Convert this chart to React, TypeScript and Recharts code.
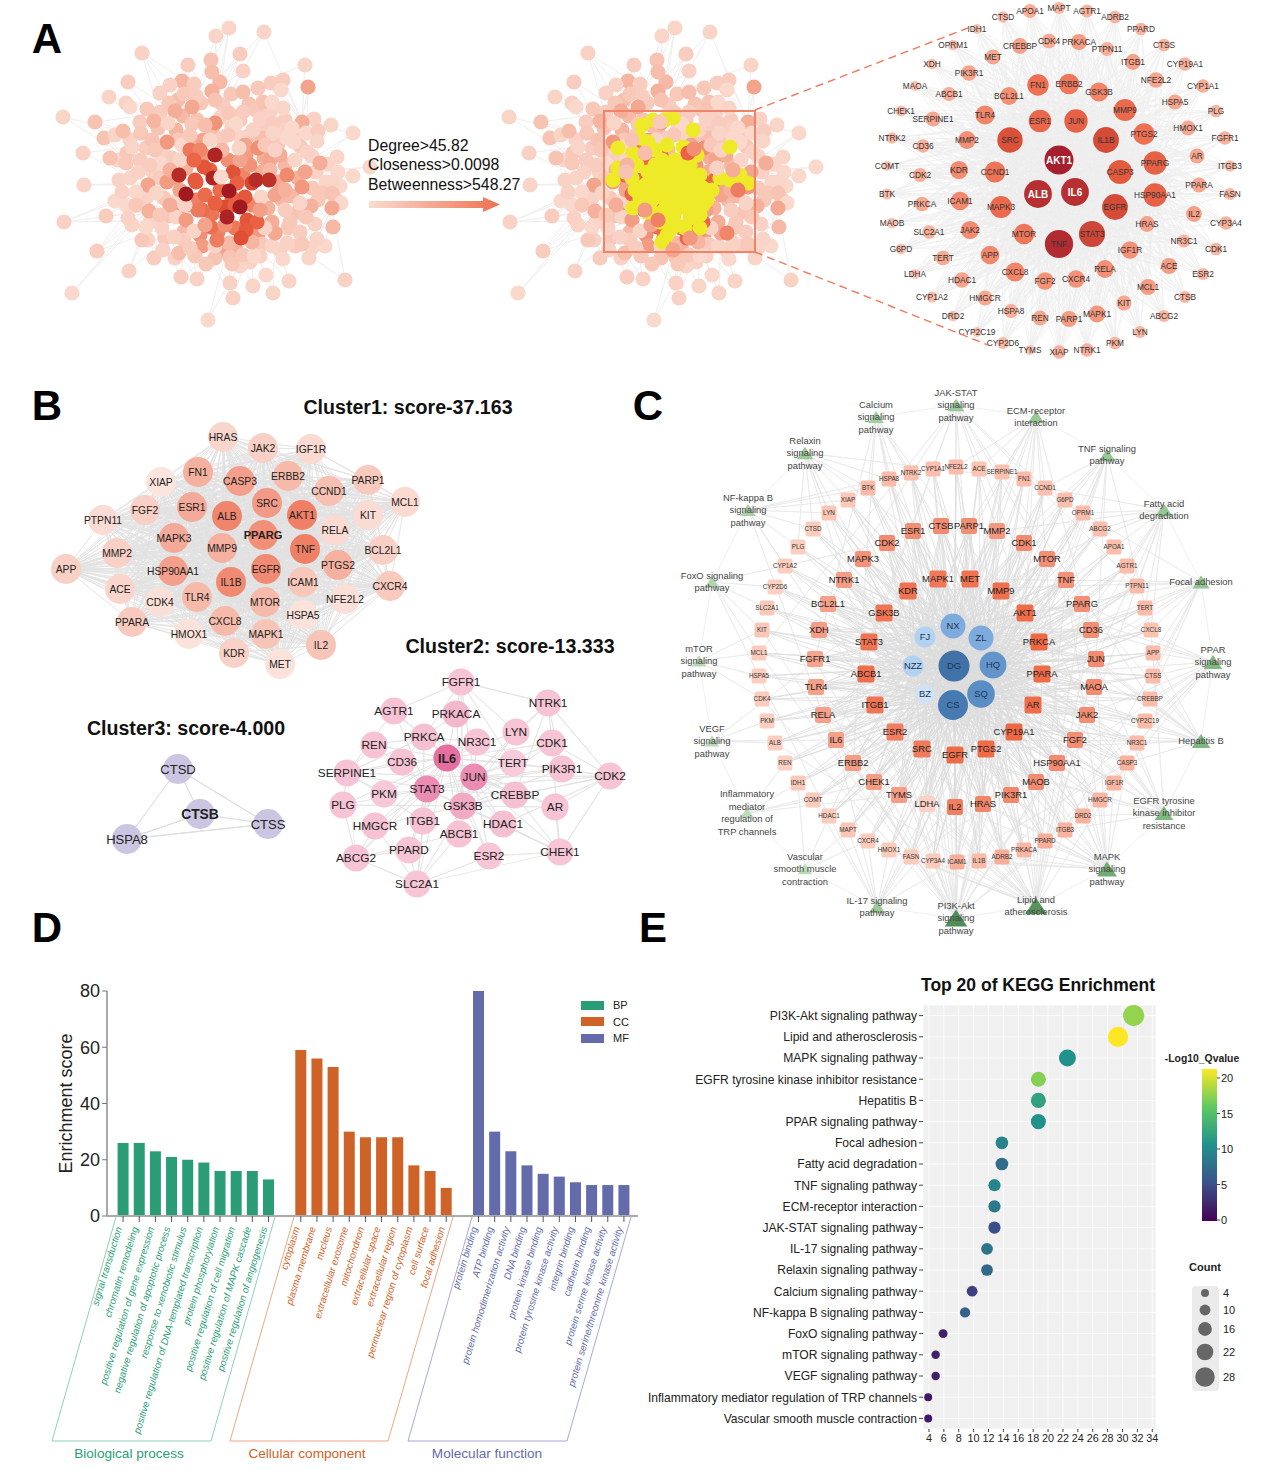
import { Bar, BarChart, CartesianGrid, Legend, Scatter, ScatterChart, XAxis, YAxis } from 'recharts';

// Panel A: protein network, [x, y, degree], ten nodes per row.
// Nodes are read off the picture. Edges cannot be traced one by one in it, so the edge lists are approximate.
const hairball = [
  [229,28,8],[216,36,8],[264,32,8],[142,53,10],[240,54,12],[188,65,12],[211,60,16],[305,65,8],[243,71,10],[128,82,12],
  [182,81,22],[220,82,20],[212,72,18],[308,87,30],[283,80,12],[271,83,12],[258,88,14],[281,90,6],[109,97,8],[160,93,10],
  [170,85,10],[194,84,12],[212,91,24],[231,94,14],[243,92,18],[63,117,8],[95,122,16],[126,103,10],[130,107,6],[147,109,14],
  [169,103,14],[184,94,14],[196,96,12],[215,100,16],[263,102,16],[272,102,6],[283,108,8],[314,119,10],[331,125,8],[353,133,6],
  [302,122,26],[104,138,16],[115,135,8],[123,131,18],[141,133,14],[154,121,22],[175,111,26],[192,107,28],[229,113,14],[243,112,12],
  [260,119,10],[273,123,12],[292,128,6],[306,133,6],[318,131,12],[317,141,8],[83,153,10],[110,158,16],[127,153,14],[132,147,8],
  [152,140,16],[167,142,36],[182,145,6],[168,123,8],[215,123,38],[236,124,6],[253,130,10],[273,133,8],[287,138,6],[294,142,6],
  [307,152,10],[337,157,8],[320,163,26],[353,176,6],[370,167,6],[84,185,8],[119,180,10],[138,172,10],[126,163,14],[160,163,6],
  [148,185,30],[167,182,34],[338,172,6],[333,182,8],[305,172,30],[287,175,42],[295,160,8],[115,201,6],[122,192,10],[136,192,6],
  [156,193,8],[64,222,10],[106,216,12],[128,218,10],[136,205,14],[149,211,24],[322,193,14],[332,193,16],[341,203,6],[332,208,28],
  [311,206,24],[300,203,8],[333,227,20],[306,217,14],[302,187,36],[97,251,12],[129,271,10],[72,293,6],[142,240,14],[146,227,6],
  [162,228,10],[176,217,8],[177,200,6],[186,220,34],[154,258,12],[163,250,10],[179,253,18],[190,248,12],[174,237,10],[194,231,8],
  [206,264,14],[181,277,12],[197,279,10],[232,264,14],[230,283,10],[233,298,10],[253,286,8],[273,293,8],[289,281,8],[266,275,6],
  [283,259,6],[309,258,8],[325,246,6],[317,239,8],[302,244,14],[345,280,10],[208,320,5],[215,246,10],[229,243,20],[243,255,14],
  [254,256,6],[252,242,22],[272,246,8],[287,243,10],[290,222,14],[275,233,28],[285,210,12],[265,228,10],[261,197,8],[203,140,30],
  [190,135,14],[205,125,18],[228,135,14],[210,140,8],[222,150,20],[245,145,30],[258,148,40],[270,160,30],[250,165,38],[180,160,8],
  [190,150,50],[200,150,44],[210,170,60],[195,180,66],[205,195,56],[233,172,72],[204,167,70],[196,182,66],[237,183,62],[252,183,80],
  [245,197,68],[225,207,76],[215,203,62],[202,210,55],[247,220,70],[257,222,60],[246,230,66],[241,238,74],[211,227,55],[217,240,48],
  [198,210,50],[194,160,58],[170,170,24],[155,150,14],[150,165,12],[180,190,30],[170,205,26],[185,205,10],[160,215,14],[205,225,30],
  [225,225,40],[235,205,62],[260,210,32],[275,195,30],[285,190,24],[270,170,20],[280,155,26],[265,145,14],[275,150,10],[240,160,30],
  [215,155,95],[213,178,95],[186,194,100],[179,175,92],[229,191,100],[240,207,100],[227,217,96],[256,180,92],[269,180,90],[221,177,6],
  [239,148,8],
];
// the packed middle of the same network, drawn underneath
const hairballCore = [
  [178,100,18],[201,103,14],[223,105,12],[249,104,16],[270,112,10],
  [160,112,12],[183,116,20],[197,120,16],[220,118,10],[240,120,14],[256,110,14],[285,120,12],
  [140,122,12],[158,128,16],[176,130,22],[192,124,14],[212,132,18],[232,127,10],[250,135,16],[266,128,12],[283,130,10],[298,136,12],
  [130,140,10],[146,148,12],[163,152,10],[178,140,14],[195,142,22],[222,138,12],[240,137,8],[262,138,18],[278,144,14],[300,146,14],[312,156,8],
  [118,160,8],[140,160,12],[153,172,10],[172,158,12],[186,168,24],[204,155,36],[228,160,40],[246,155,34],[264,158,26],[285,165,20],[298,178,24],[316,172,10],[328,164,8],
  [130,178,8],[142,195,8],[160,178,12],[176,178,34],[189,205,28],[220,190,56],[243,175,44],[262,172,26],[278,182,28],[292,196,20],[312,188,14],[326,182,8],[340,186,6],
  [126,205,6],[146,198,10],[164,198,14],[178,210,36],[196,200,46],[212,214,52],[232,198,60],[252,205,44],[268,208,24],[282,200,20],[298,212,16],[318,200,14],[335,198,10],
  [132,225,8],[150,222,8],[168,216,16],[184,232,20],[200,235,40],[218,232,46],[235,228,50],[258,234,36],[272,222,26],[288,228,14],[300,232,12],[315,224,10],
  [148,240,10],[165,238,14],[184,240,12],[202,246,34],[222,250,30],[236,250,24],[262,244,14],[280,250,10],[295,246,12],[312,248,8],
  [175,258,10],[195,256,14],[215,258,16],[230,257,16],[250,262,10],[240,266,8],[260,256,10],
];
const hairballFans: [number, number[]][] = [
  [61, [25,26,18,41,42,43,56,57,3,9,27,29]],
  [80, [56,57,75,76,78,87,88,91,92,93,105,41,26]],
  [81, [25,75,91,92,105,106,107,108,114,87,57]],
  [95, [91,105,106,107,93,92,114,115,116,121,122]],
  [113, [91,105,106,116,114,120,121,122,124,125]],
  [46, [3,5,10,19,20,9,27,18,26,22]],
  [33, [0,1,3,4,5,6,10,12,21,22,23]],
  [47, [0,1,2,3,4,5,7,8,14,15,16]],
  [64, [0,1,2,4,8,23,24,34,35,48,49,36]],
  [40, [2,7,13,14,15,17,36,37,38,39,53,54]],
  [84, [13,37,38,39,70,71,72,73,74,82,83,54,55]],
  [85, [38,39,71,73,74,96,97,98,99]],
  [104, [71,73,82,83,96,97,98,99,100,102,103]],
  [99, [72,82,83,96,97,98,135,131,132,133,134]],
  [145, [131,132,133,134,135,128,127,130,102,103,144]],
  [141, [120,123,124,125,126,127,128,129,136,137,138]],
  [138, [120,121,122,123,124,125,126,136,112]],
  [165, [61,80,81,84,85,104,46,47,64,95,113,141,145,138,40,33,77,66,58]],
  [176, [60,44,45,78,90,94,108,118,119,139,142,143,146,100,86,70,50,51]],
];
const keyGenesA = [
  [662,242],[700,228],[677,225],[690,218],[670,215],[653,213],[640,205],[633,208],[647,212],[668,205],
  [683,207],[700,201],[703,188],[707,200],[693,190],[680,195],[667,178],[660,172],[673,172],[687,172],
  [693,180],[657,188],[645,195],[653,180],[670,190],[663,195],[680,183],[700,175],[648,172],[637,165],
  [632,178],[613,180],[618,168],[618,148],[633,153],[648,142],[640,138],[667,145],[665,120],[673,118],
  [653,120],[642,125],[683,147],[697,155],[730,147],[693,130],[720,178],[730,180],[740,175],[748,183],
  [662,160],[675,160],[635,190],[625,172],[655,150],[685,200],[712,190],[700,215],
  [655,165],[665,165],[678,165],[690,165],[650,175],[660,178],[672,180],[685,180],[697,183],[645,185],
  [655,190],[668,188],[680,190],[692,193],[640,198],[652,200],[665,200],[677,200],[690,205],[703,205],
  [650,210],[662,212],[675,212],[690,212],[660,222],[672,228],[685,228],[667,235],
];
// nodes that lie over the yellow ones, [x, y, degree]
const overKeyGenes = [
  [627,165,22],[645,210,34],[658,220,46],[688,153,60],[694,149,40],[632,140,16],[733,170,26],[738,190,48],[727,233,44],[645,153,18],
  [626,172,16],[717,168,10],[673,250,30],[690,238,36],[660,122,14],
];

// Panel A, right: key gene ring, [name, x, y, degree]
const keyGenes: [string, number, number, number][] = [
  ['APOA1',1030,11,24],['MAPT',1059,8,16],['AGTR1',1087,11,20],['ADRB2',1115,17,18],['PPARD',1141,29,18],['CTSS',1164,45,18],['CYP19A1',1185,64,22],['CYP1A1',1203,86,22],['PLG',1216,111,18],['FGFR1',1225,138,22],
  ['ITGB3',1230,166,12],['FASN',1230,194,16],['CYP3A4',1226,223,22],['CDK1',1216,249,18],['ESR2',1203,274,16],['CTSB',1185,297,16],['ABCG2',1164,316,16],['LYN',1140,332,16],['PKM',1115,343,18],['NTRK1',1087,350,22],
  ['XIAP',1059,352,22],['TYMS',1030,350,6],['CYP2D6',1003,343,14],['CYP2C19',977,332,4],['DRD2',953,316,8],['CYP1A2',932,297,10],['LDHA',915,274,6],['G6PD',901,249,8],['MAOB',892,223,8],['BTK',887,194,10],
  ['COMT',887,166,4],['NTRK2',892,138,12],['CHEK1',901,111,10],['MAOA',915,86,4],['XDH',932,64,8],['OPRM1',953,45,8],['IDH1',977,29,4],['CTSD',1003,17,12],
  ['CREBBP',1020,46,34],['CDK4',1049,41,28],['PRKACA',1079,42,36],['PTPN11',1107,49,24],['ITGB1',1133,62,34],['NFE2L2',1156,80,32],['HSPA5',1175,102,30],['HMOX1',1188,128,30],['AR',1197,156,30],['PPARA',1199,185,30],
  ['IL2',1194,214,34],['NR3C1',1184,241,20],['ACE',1169,266,36],['MCL1',1148,287,36],['KIT',1124,303,30],['MAPK1',1097,314,40],['PARP1',1069,319,36],['REN',1040,318,30],['HSPA8',1011,311,24],['HMGCR',985,298,30],
  ['HDAC1',962,280,32],['TERT',943,258,28],['SLC2A1',929,232,22],['PRKCA',922,204,28],['CDK2',920,175,26],['CD36',923,146,22],['SERPINE1',933,119,30],['ABCB1',949,94,26],['PIK3R1',969,73,32],['MET',993,57,30],
  ['FN1',1038,85,62],['ERBB2',1069,84,58],['GSK3B',1099,92,50],['MMP9',1125,110,66],['PTGS2',1144,134,62],['PPARG',1155,163,72],['HSP90AA1',1155,195,72],['HRAS',1147,224,34],['IGF1R',1130,250,42],['RELA',1105,269,44],
  ['CXCR4',1076,279,42],['FGF2',1045,281,42],['CXCL8',1015,272,50],['APP',990,255,48],['JAK2',970,230,46],['ICAM1',960,201,48],['KDR',959,170,46],['MMP2',967,140,44],['TLR4',985,115,50],['BCL2L1',1009,96,44],
  ['ESR1',1040,121,68],['JUN',1076,121,72],['IL1B',1106,140,84],['CASP3',1120,172,76],['EGFR',1115,207,84],['STAT3',1092,234,86],['TNF',1059,244,96],['MTOR',1024,234,58],['MAPK3',1001,207,66],['CCND1',995,172,60],
  ['SRC',1010,140,82],['AKT1',1059,160,100],['ALB',1038,194,94],['IL6',1075,192,94],
];
const ringHubs = ['AKT1','ALB','IL6','TNF','STAT3','EGFR','SRC','IL1B','JUN','ESR1','CASP3','MAPK3','MMP9','PPARG','HSP90AA1'];

// Panel B: MCODE clusters, [name, x, y, score]
const cluster1: [string, number, number, number][] = [
  ['HRAS',223,437,14],['JAK2',263,448,20],['IGF1R',311,449,10],['FN1',198,472,50],['CASP3',240,481,65],['ERBB2',288,476,40],['CCND1',329,491,35],['PARP1',368,480,25],['MCL1',405,502,10],['XIAP',161,482,0],
  ['ESR1',192,507,55],['SRC',267,503,70],['AKT1',302,515,95],['ALB',227,516,90],['KIT',368,515,8],['RELA',335,530,10],['FGF2',145,510,20],['PTPN11',103,520,8],['MAPK3',174,538,55],['MMP9',222,548,50],
  ['TNF',305,549,95],['BCL2L1',383,550,20],['MMP2',117,553,20],['APP',66,569,20],['HSP90AA1',173,571,65],['EGFR',266,569,85],['PTGS2',338,565,50],['IL1B',231,582,85],['ICAM1',303,582,28],['CXCR4',390,586,25],
  ['ACE',120,589,15],['CDK4',160,602,5],['TLR4',197,597,40],['MTOR',265,602,40],['NFE2L2',345,599,5],['PPARA',132,622,25],['HSPA5',303,615,3],['CXCL8',225,621,40],['HMOX1',189,634,3],['MAPK1',266,634,30],
  ['IL2',321,645,30],['KDR',234,653,18],['MET',280,664,3],['PPARG',263,535,80],
];
const cluster2: [string, number, number, number][] = [
  ['FGFR1',461,682,12],['NTRK1',548,703,12],['AGTR1',394,711,14],['PRKACA',456,714,25],['LYN',516,732,12],['CDK1',552,743,12],['REN',374,745,14],['PRKCA',424,737,16],['NR3C1',477,742,12],['CD36',402,762,14],
  ['TERT',513,763,5],['PIK3R1',562,769,12],['CDK2',610,776,12],['SERPINE1',347,773,12],['JUN',474,777,70],['STAT3',427,789,70],['PKM',384,794,8],['CREBBP',515,795,16],['AR',555,807,12],['PLG',343,805,12],
  ['GSK3B',463,806,40],['ITGB1',423,821,14],['HMGCR',375,826,14],['HDAC1',503,824,16],['ABCB1',459,834,14],['PPARD',409,850,10],['ESR2',489,856,10],['CHEK1',560,852,10],['ABCG2',356,858,12],['SLC2A1',417,884,10],
  ['IL6',447,758,100],
];
const cluster3: [string, number, number, number][] = [
  ['CTSD',178,769,50],['CTSS',268,824,50],['HSPA8',127,839,50],['CTSB',200,814,50],
];
const cluster2Fans: [string, string][] = [
  ['IL6','AGTR1 PRKACA PRKCA NR3C1 CD36 STAT3 JUN TERT LYN REN SERPINE1 PLG PKM GSK3B ITGB1 HMGCR ABCB1 CREBBP HDAC1 PPARD ESR2 PIK3R1 CDK1 ABCG2 SLC2A1 AR'],
  ['JUN','FGFR1 NTRK1 LYN CDK1 PIK3R1 CDK2 CREBBP AR HDAC1 GSK3B ESR2 CHEK1 SERPINE1 STAT3 PRKCA NR3C1 TERT'],
  ['STAT3','SERPINE1 PLG PKM HMGCR ABCG2 PPARD SLC2A1 ITGB1 GSK3B REN AGTR1 CD36 PIK3R1 CDK2 CHEK1 HDAC1 CREBBP'],
  ['GSK3B','FGFR1 PRKACA LYN CDK1 CDK2 AR CHEK1 ESR2 ABCB1 SLC2A1 HMGCR PLG CREBBP PIK3R1'],
  ['FGFR1','AGTR1 PRKACA NTRK1 LYN PRKCA TERT'],
  ['NTRK1','LYN CDK1 CDK2 PIK3R1 CREBBP'],
  ['CDK2','CDK1 PIK3R1 AR CHEK1 TERT CREBBP HDAC1'],
  ['CHEK1','CDK1 AR HDAC1 ESR2 CREBBP'],
  ['SLC2A1','ABCG2 PPARD ESR2 ABCB1 HMGCR ITGB1'],
  ['ABCG2','HMGCR PLG PPARD ABCB1'],
  ['SERPINE1','REN PLG PKM CD36 AGTR1 PRKCA ITGB1'],
  ['PRKCA','AGTR1 REN PRKACA CD36 NR3C1 TERT ITGB1'],
];

// Panel C: herb, target, pathway network
const outerTargets: [string, number, number, number][] = [
  ['BTK',868,488,45],['HSPA8',889,479,45],['NTRK2',911,473,40],['CYP1A1',933,469,40],['NFE2L2',956,467,42],['ACE',979,469,35],['SERPINE1',1002,472,38],['FN1',1024,479,45],['CCND1',1045,488,40],['G6PD',1065,500,40],
  ['OPRM1',1083,513,42],['ABCG2',1100,529,40],['APOA1',1114,547,40],['AGTR1',1127,566,42],['PTPN11',1137,586,42],['TERT',1145,608,42],['CXCL8',1151,630,35],['APP',1153,653,42],['CTSS',1153,676,42],['CREBBP',1150,699,42],
  ['CYP2C19',1145,721,45],['NR3C1',1137,743,45],['CASP3',1127,763,50],['IGF1R',1114,783,48],['HMGCR',1100,800,48],['DRD2',1083,816,50],['ITGB3',1065,830,50],['PPARD',1045,841,52],['PRKACA',1024,850,48],['ADRB2',1002,857,52],
  ['IL1B',979,861,45],['ICAM1',957,862,52],['CYP3A4',933,861,25],['FASN',911,857,25],['HMOX1',889,850,25],['CXCR4',868,841,25],['MAPT',848,830,32],['HDAC1',829,816,25],['COMT',813,800,25],['IDH1',798,783,28],
  ['REN',785,763,18],['ALB',775,743,22],['PKM',767,721,22],['CDK4',762,699,25],['HSPA5',759,676,22],['MCL1',759,653,25],['KIT',762,630,30],['SLC2A1',767,608,28],['CYP2D6',775,587,20],['CYP1A2',785,566,22],
  ['PLG',798,547,22],['CTSD',813,529,25],['LYN',829,513,32],['XIAP',848,500,30],
];
const middleTargets: [string, number, number, number][] = [
  ['CDK2',887,543,72],['ESR1',913,531,70],['CTSB',941,526,72],['PARP1',969,526,70],['MMP2',997,531,65],['CDK1',1024,543,72],['MTOR',1047,559,70],['TNF',1066,580,68],['PPARG',1082,604,70],['CD36',1091,630,70],
  ['JUN',1096,659,72],['MAOA',1094,687,72],['JAK2',1087,715,70],['FGF2',1075,740,70],['HSP90AA1',1057,763,72],['MAOB',1036,782,72],['PIK3R1',1011,795,74],['HRAS',983,804,76],['IL2',955,807,80],['LDHA',927,804,18],
  ['TYMS',899,795,62],['CHEK1',874,782,62],['ERBB2',853,763,62],['IL6',836,740,60],['RELA',823,715,60],['TLR4',816,687,60],['FGFR1',815,659,58],['XDH',819,630,62],['BCL2L1',828,604,60],['NTRK1',844,580,62],
  ['MAPK3',863,559,68],
];
const innerTargets: [string, number, number, number][] = [
  ['MAPK1',938,579,84],['MET',970,579,88],['MMP9',1001,591,90],['AKT1',1025,613,92],['PRKCA',1039,642,94],['PPARA',1042,674,92],['AR',1033,705,92],['CYP19A1',1014,732,94],['PTGS2',986,749,92],['EGFR',955,755,92],
  ['SRC',922,749,82],['ESR2',895,732,80],['ITGB1',875,705,86],['ABCB1',866,674,90],['STAT3',869,642,88],['GSK3B',884,613,86],['KDR',908,591,88],
];
const herbs: [string, number, number, number][] = [
  ['DG',954,666,100],['CS',953,705,92],['SQ',981,694,72],['HQ',993,665,66],['NX',953,626,50],['ZL',981,638,50],['FJ',925,637,18],['NZZ',913,666,18],['BZ',925,694,2],
];
const pathwayNodes: [string, number, number, number][] = [
  ['Calcium|signaling|pathway',876,417,10],['JAK-STAT|signaling|pathway',956,405,13],['ECM-receptor|interaction',1036,417,13],['TNF signaling|pathway',1107,455,13],['Fatty acid|degradation',1164,510,14],
  ['Focal adhesion',1201,582,14],['PPAR|signaling|pathway',1213,662,19],['Hepatitis B',1201,741,19],['EGFR tyrosine|kinase inhibitor|resistance',1164,813,19],['MAPK|signaling|pathway',1107,869,23],
  ['Lipid and|atherosclerosis',1036,906,30],['PI3K-Akt|signaling|pathway',956,918,32],['IL-17 signaling|pathway',877,907,12],['Vascular|smooth muscle|contraction',805,869,4],['Inflammatory|mediator|regulation of|TRP channels',747,813,4],
  ['VEGF|signaling|pathway',712,741,5],['mTOR|signaling|pathway',699,661,5],['FoxO signaling|pathway',712,582,6],['NF-kappa B|signaling|pathway',748,510,9],['Relaxin|signaling|pathway',805,453,12],
];
const pathwayGenes = [
  'BTK HSPA8 NTRK2 EGFR ERBB2 PRKCA PRKACA FGFR1 MET KDR',
  'IL6 IL2 JAK2 STAT3 AKT1 MTOR CCND1 CREBBP BCL2L1 MCL1 PTPN11 EGFR HRAS',
  'FN1 ITGB1 ITGB3 CD36 MET SRC PARP1 ACE SERPINE1 CCND1 NFE2L2 AKT1 CDK1',
  'TNF IL6 JUN AKT1 ICAM1 CXCL8 CCND1 G6PD OPRM1 ABCG2 MMP9 PTGS2 RELA',
  'APOA1 OPRM1 ABCG2 CCND1 AGTR1 PPARD PTPN11 CXCL8 CD36 MMP2 FASN TERT MTOR JUN',
  'AKT1 EGFR MET PTPN11 TERT CXCL8 CTSS APP CREBBP ITGB1 ITGB3 FN1 SRC KDR',
  'PPARG PPARA PPARD APP CTSS CREBBP CYP2C19 NR3C1 FASN ADRB2 CD36 MMP9 JAK2 IGF1R',
  'TNF IL6 JUN AKT1 CYP2C19 NR3C1 CASP3 CREBBP APP CTSS MMP9 STAT3 RELA CDK2 PTGS2 JAK2',
  'EGFR AKT1 MTOR IGF1R HMGCR NR3C1 CASP3 DRD2 ITGB3 KDR SRC MET FGF2 BCL2L1 CXCL8 JAK2',
  'IGF1R HMGCR DRD2 ITGB3 PPARD PRKACA ADRB2 IL1B ICAM1 TNF AKT1 EGFR FGF2 KDR MET JUN RELA HRAS MAOB PIK3R1 IL2 CASP3',
  'ITGB3 PPARD PRKACA ADRB2 IL1B ICAM1 CYP3A4 HMOX1 FASN TNF IL6 AKT1 ALB CD36 PPARG PPARA JUN STAT3 CASP3 MMP9 SRC EGFR HRAS IL2 LDHA TLR4 CXCR4 RELA PIK3R1',
  'IL2 AKT1 EGFR PRKCA MET KDR FGF2 FGFR1 IL6 ITGB1 ITGB3 HSP90AA1 MTOR JAK2 RELA TLR4 HRAS IGF1R PIK3R1 MAPK1 MAPK3 CCND1 CDK2 CDK4 BCL2L1 MCL1 ERBB2 KIT NTRK1 NTRK2 ICAM1 CYP3A4',
  'MAPT HDAC1 COMT CXCR4 HMOX1 FASN TNF JUN IL6 MMP9 CASP3 AKT1',
  'IDH1 MAPT ERBB2 CXCR4',
  'REN IDH1 COMT CHEK1 TYMS',
  'ALB PKM IL6 KDR',
  'HSPA5 CDK4 MCL1 KIT',
  'SLC2A1 KIT MCL1 CYP2D6 HDAC1 CDK2',
  'XIAP LYN PLG CTSD CYP1A2 BTK NTRK2 RELA IL1B',
  'LYN CTSD PLG BTK HSPA8 ESR1 CDK2 MAPK3 NTRK1 FN1 SRC',
];

// Panel D: GO enrichment
const bpTerms = ['signal transduction','chromatin remodeling','positive regulation of gene expression','negative regulation of apoptotic process','response to xenobiotic stimulus','positive regulation of DNA-templated transcription','protein phosphorylation','positive regulation of cell migration','positive regulation of MAPK cascade','positive regulation of angiogenesis'];
const bpValues = [26, 26, 23, 21, 20, 19, 16, 16, 16, 13];
const ccTerms = ['cytoplasm','plasma membrane','nucleus','extracellular exosome','mitochondrion','extracellular space','extracellular region','perinuclear region of cytoplasm','cell surface','focal adhesion'];
const ccValues = [59, 56, 53, 30, 28, 28, 28, 18, 16, 10];
const mfTerms = ['protein binding','ATP binding','protein homodimerization activity','DNA binding','protein kinase binding','protein tyrosine kinase activity','integrin binding','cadherin binding','protein serine kinase activity','protein serine/threonine kinase activity'];
const mfValues = [80, 30, 23, 18, 15, 14, 12, 11, 11, 11];
const scoreTicks = [0, 20, 40, 60, 80];

// Panel E: KEGG enrichment
const keggPathways = ['PI3K-Akt signaling pathway','Lipid and atherosclerosis','MAPK signaling pathway','EGFR tyrosine kinase inhibitor resistance','Hepatitis B','PPAR signaling pathway','Focal adhesion','Fatty acid degradation','TNF signaling pathway','ECM-receptor interaction','JAK-STAT signaling pathway','IL-17 signaling pathway','Relaxin signaling pathway','Calcium signaling pathway','NF-kappa B signaling pathway','FoxO signaling pathway','mTOR signaling pathway','VEGF signaling pathway','Inflammatory mediator regulation of TRP channels','Vascular smooth muscle contraction'];
const keggCounts = [31.5, 29.4, 22.6, 18.7, 18.7, 18.7, 13.8, 13.8, 12.8, 12.8, 12.8, 11.8, 11.8, 9.8, 8.85, 5.9, 4.9, 4.9, 3.9, 3.9];
const keggQvalues = [17.5, 21, 10.5, 17, 12, 10.5, 9.3, 7.5, 9.5, 8.5, 5, 8, 7.2, 4, 6.5, 2, 2, 2, 1.5, 1.5];
const countTicks = [4, 6, 8, 10, 12, 14, 16, 18, 20, 22, 24, 26, 28, 30, 32, 34];
const qLegend = [0, 5, 10, 15, 20];
const countLegend = [4, 10, 16, 22, 28];

const FONT = '"Liberation Sans", Arial, sans-serif';
const VIRIDIS = ['#440154', '#3b528b', '#21918c', '#5ec962', '#fde725'];
const BP = '#2a9d77';
const CC = '#cf6226';
const MF = '#636bab';

function ramp(stops: [number, string][], v: number) {
  const hex = (c: string) => [1, 3, 5].map((i) => parseInt(c.slice(i, i + 2), 16));
  let i = 0;
  while (i < stops.length - 2 && v > stops[i + 1][0]) i++;
  const [a, ca] = stops[i];
  const [b, cb] = stops[i + 1];
  const t = Math.max(0, Math.min(1, (v - a) / (b - a)));
  const A = hex(ca);
  const B = hex(cb);
  return `rgb(${A.map((n, k) => Math.round(n + (B[k] - n) * t)).join(',')})`;
}

const hairballRamp: [number, string][] = [[0,'#fbe0d6'],[10,'#f9d2c5'],[20,'#f6b9a6'],[35,'#f29a80'],[60,'#ea6243'],[80,'#d9472f'],[100,'#a01a20']];
const ringRamp: [number, string][] = [[0,'#fbc9b9'],[30,'#f7a78f'],[60,'#ef7355'],[80,'#e0553a'],[90,'#c23c35'],[100,'#a51f2c']];
const cluster1Ramp: [number, string][] = [[0,'#fbe5de'],[100,'#ee7a5f']];
const cluster2Ramp: [number, string][] = [[0,'#f8d0dc'],[100,'#e76fa0']];
const cluster3Ramp: [number, string][] = [[0,'#cfc9e4'],[100,'#c6c0de']];
const targetRamp: [number, string][] = [[0,'#fde0d6'],[45,'#fabba8'],[70,'#f28e74'],[100,'#ee5f38']];
const herbRamp: [number, string][] = [[0,'#d2e5f8'],[20,'#add0f0'],[50,'#7eabdd'],[70,'#5c8fc6'],[100,'#4072a8']];
const pathwayRamp: [number, string][] = [[0,'#c9e3c6'],[15,'#8fc48f'],[32,'#4f8f55']];
const viridisRamp: [number, string][] = VIRIDIS.map((c, i) => [i * 5.25, c]);

const asPoints = (rows: [string, number, number, number][]) => rows.map(([name, x, y, d]) => ({ name, x, y, d }));
const fanWalk = (fans: [number, number[]][]) => fans.flatMap(([hub, targets]) => targets.flatMap((t) => [hub, t]).concat(hub));

function namedFans(rows: [string, number, number, number][], fans: [string, string][]) {
  const at = new Map(rows.map((r) => [r[0], { x: r[1], y: r[2] }]));
  return fans.flatMap(([hub, names]) =>
    names.split(' ').filter((n) => at.has(n)).flatMap((n) => [at.get(hub), at.get(n)]).concat(at.get(hub)),
  );
}
// all pairs: MCODE clusters 1 and 3 are close to complete graphs
function allPairs(rows: [string, number, number, number][]) {
  const walk: { x: number; y: number }[] = [];
  rows.forEach((a, i) => {
    rows.slice(i + 1).forEach((b) => {
      walk.push({ x: a[1], y: a[2] }, { x: b[1], y: b[2] });
    });
    walk.push({ x: a[1], y: a[2] });
  });
  return walk;
}

const countRadius = (c: number) => 4 + (c - 4) * 0.24;

const hairballA1 = hairball.map(([x, y, d]) => ({ x, y, d }));
const hairballA2 = hairball.map(([x, y, d]) => ({ x: x + 446, y, d: Math.min(d, 58) }));
const coreA1 = hairballCore.map(([x, y, d]) => ({ x, y, d }));
const coreA2 = hairballCore.map(([x, y, d]) => ({ x: x + 446, y, d }));
const walkA1 = fanWalk(hairballFans).map((i) => hairballA1[i]);
const walkA2 = fanWalk(hairballFans).map((i) => hairballA2[i]);
const keyPoints = keyGenesA.map(([x, y]) => ({ x, y }));
const overKeyPoints = overKeyGenes.map(([x, y, d]) => ({ x, y, d }));
const allTargets = [...outerTargets, ...middleTargets, ...innerTargets];
const cRows = [...allTargets, ...herbs, ...pathwayNodes];
const pathwayWalk = namedFans(cRows, pathwayNodes.map((p, i) => [p[0], pathwayGenes[i]]));
const herbWalk = namedFans(cRows, herbs.map((h, i) => [
  h[0],
  [...(i < 4 ? allTargets : [...middleTargets, ...innerTargets])].map((t) => t[0]).join(' '),
]));

const none = () => null;

function edges(key: string, walk: any[], stroke: string, width: number) {
  return (
    <Scatter
      key={key}
      data={walk}
      shape={none}
      line={{ stroke, strokeWidth: width }}
      lineJointType="linear"
      isAnimationActive={false}
    />
  );
}

function circles(key: string, data: any[], r: (d: number) => number, fill: (d: number) => string) {
  return (
    <Scatter
      key={key}
      data={data}
      isAnimationActive={false}
      shape={(p: any) => <circle cx={p.cx} cy={p.cy} r={r(p.payload.d)} fill={fill(p.payload.d)} />}
    />
  );
}

function squares(key: string, data: any[], s: number, fill: (d: number) => string) {
  return (
    <Scatter
      key={key}
      data={data}
      isAnimationActive={false}
      shape={(p: any) => <rect x={p.cx - s / 2} y={p.cy - s / 2} width={s} height={s} rx={2.5} fill={fill(p.payload.d)} />}
    />
  );
}

function labels(key: string, data: any[], size: number, bold: string[] = [], fill = '#222') {
  return (
    <Scatter
      key={key}
      data={data}
      isAnimationActive={false}
      shape={(p: any) => (
        <text
          x={p.cx}
          y={p.cy}
          dy="0.36em"
          textAnchor="middle"
          fontSize={bold.includes(p.payload.name) ? size + 0.8 : size}
          fontWeight={bold.includes(p.payload.name) ? 700 : 400}
          fill={fill}
        >
          {p.payload.name}
        </text>
      )}
    />
  );
}

function Networks() {
  const rRing = (d: number) => 4.5 + d * 0.1;
  const paleFill = (d: number) => ramp(hairballRamp, d);
  return (
    <ScatterChart width={1268} height={970} margin={{ top: 0, right: 0, bottom: 0, left: 0 }} style={{ position: 'absolute', left: 0, top: 0 }}>
      <XAxis type="number" dataKey="x" domain={[0, 1268]} hide />
      <YAxis type="number" dataKey="y" domain={[0, 970]} reversed hide />

      {edges('a1-edges', walkA1, '#ececec', 0.6)}
      {circles('a1-core', coreA1, () => 7.6, paleFill)}
      {circles('a1-nodes', hairballA1, () => 7.6, paleFill)}
      {edges('a2-edges', walkA2, '#ececec', 0.6)}
      {circles('a2-core', coreA2, () => 7.6, paleFill)}
      {circles('a2-nodes', hairballA2, () => 7.6, paleFill)}
      {circles('a2-key', keyPoints, () => 7.6, () => '#eeea28')}
      {circles('a2-over', overKeyPoints, () => 7.6, paleFill)}

      {edges('ring-edges', namedFans(keyGenes, ringHubs.map((h) => [h, keyGenes.map((g) => g[0]).join(' ')])), '#f0f0f0', 0.45)}
      {circles('ring-nodes', asPoints(keyGenes), rRing, (d) => ramp(ringRamp, d))}
      {labels('ring-labels', asPoints(keyGenes.filter((g) => !['AKT1', 'ALB', 'IL6'].includes(g[0]))), 8.3, [], '#333')}
      {labels('ring-top', asPoints(keyGenes.filter((g) => ['AKT1', 'ALB', 'IL6'].includes(g[0]))), 9.2, ['AKT1', 'ALB', 'IL6'], '#fff')}

      {edges('b1-edges', allPairs(cluster1), '#e3e3e3', 0.6)}
      {circles('b1-nodes', asPoints(cluster1), () => 15, (d) => ramp(cluster1Ramp, d))}
      {labels('b1-labels', asPoints(cluster1), 10.3, ['PPARG'])}

      {edges('b2-edges', namedFans(cluster2, cluster2Fans), '#e3e3e3', 0.7)}
      {circles('b2-nodes', asPoints(cluster2), () => 13.6, (d) => ramp(cluster2Ramp, d))}
      {labels('b2-labels', asPoints(cluster2), 11.8, ['IL6'])}

      {edges('b3-edges', allPairs(cluster3), '#dddddd', 0.8)}
      {circles('b3-nodes', asPoints(cluster3), () => 15, (d) => ramp(cluster3Ramp, d))}
      {labels('b3-labels', asPoints(cluster3), 13, ['CTSB'])}

      {edges('c-pathways', pathwayWalk, '#e6e6e6', 0.6)}
      {edges('c-herbs', herbWalk, '#dcdcdc', 0.5)}
      {squares('c-outer', asPoints(outerTargets), 15, (d) => ramp(targetRamp, d))}
      {squares('c-middle', asPoints(middleTargets), 16, (d) => ramp(targetRamp, d))}
      {squares('c-inner', asPoints(innerTargets), 17, (d) => ramp(targetRamp, d))}
      {circles('c-herbs-nodes', asPoints(herbs), (d) => 9.5 + d * 0.06, (d) => ramp(herbRamp, d))}
      <Scatter
        data={asPoints(pathwayNodes)}
        isAnimationActive={false}
        shape={(p: any) => {
          const hw = 6.5 + p.payload.d * 0.15;
          const h = hw * 0.75;
          return (
            <polygon
              points={`${p.cx},${p.cy - h} ${p.cx - hw},${p.cy + h} ${p.cx + hw},${p.cy + h}`}
              fill={ramp(pathwayRamp, p.payload.d)}
            />
          );
        }}
      />
      {labels('c-outer-l', asPoints(outerTargets), 6.3, [], '#333')}
      {labels('c-middle-l', asPoints(middleTargets), 9.4)}
      {labels('c-inner-l', asPoints(innerTargets), 9.4)}
      {labels('c-herb-l', asPoints(herbs), 9.4, [], '#1d3557')}
      <Scatter
        data={asPoints(pathwayNodes)}
        isAnimationActive={false}
        shape={(p: any) => {
          const lines = p.payload.name.split('|');
          return (
            <text textAnchor="middle" fontSize={9.4} fill="#444">
              {lines.map((t: string, i: number) => (
                <tspan key={i} x={p.cx} y={p.cy + 3 + (i - (lines.length - 1) / 2) * 12.5}>{t}</tspan>
              ))}
            </text>
          );
        }}
      />
    </ScatterChart>
  );
}

const goRows = [
  ...bpTerms.map((term, i) => ({ term, group: BP, bp: bpValues[i] })),
  { term: '', group: '' },
  ...ccTerms.map((term, i) => ({ term, group: CC, cc: ccValues[i] })),
  { term: '', group: '' },
  ...mfTerms.map((term, i) => ({ term, group: MF, mf: mfValues[i] })),
];

function GoTick({ x, y, payload, index }: any) {
  const row = goRows[index ?? payload.index];
  if (!row || !row.term) return null;
  return (
    <g>
      <line x1={x} x2={x} y1={y - 8} y2={y - 2} stroke="#555" strokeWidth={1} />
      <text
        transform={`translate(${x - 1},${y + 4}) rotate(-73)`}
        textAnchor="end"
        fontSize={9.8}
        fontStyle="italic"
        fill={row.group}
      >
        {row.term}
      </text>
    </g>
  );
}

function GoLegend({ payload }: any) {
  return (
    <div>
      {(payload ?? []).map((e: any) => (
        <div key={e.value} style={{ display: 'flex', alignItems: 'center', height: 16.5, fontSize: 11, color: '#222' }}>
          <span style={{ width: 23, height: 9, background: e.color, marginRight: 9 }} />
          {e.value}
        </div>
      ))}
    </div>
  );
}

function GoBars() {
  return (
    <BarChart
      width={660}
      height={500}
      data={goRows}
      barCategoryGap="16%"
      margin={{ top: 21, right: 22, bottom: 0, left: 0 }}
      style={{ position: 'absolute', left: 0, top: 970 }}
    >
      <XAxis
        dataKey="term"
        interval={0}
        height={254}
        padding={{ left: 8, right: 6 }}
        axisLine={{ stroke: '#aaa', strokeWidth: 2 }}
        tickLine={false}
        tick={<GoTick />}
      />
      <YAxis
        width={107}
        domain={[0, 80]}
        ticks={scoreTicks}
        axisLine={{ stroke: '#aaa', strokeWidth: 2 }}
        tickLine={{ stroke: '#777' }}
        tickSize={5}
        tick={{ fontSize: 18, fill: '#222' }}
        label={{ value: 'Enrichment score', angle: -90, position: 'insideLeft', offset: 66, fontSize: 18, fill: '#222', style: { textAnchor: 'middle' } }}
      />
      <Legend
        layout="vertical"
        align="center"
        verticalAlign="middle"
        wrapperStyle={{ left: 581, top: 27, width: 60 }}
        content={<GoLegend />}
      />
      <Bar dataKey="bp" name="BP" stackId="go" fill={BP} isAnimationActive={false} />
      <Bar dataKey="cc" name="CC" stackId="go" fill={CC} isAnimationActive={false} />
      <Bar dataKey="mf" name="MF" stackId="go" fill={MF} isAnimationActive={false} />
    </BarChart>
  );
}

const keggRows = keggPathways.map((name, i) => ({ name, count: keggCounts[i], q: keggQvalues[i] }));

function KeggTick({ x, y, payload }: any) {
  return (
    <text x={x} y={y} dy="0.36em" textAnchor="end" fontSize={12.1} fill="#222">{payload.value}</text>
  );
}

function KeggDots() {
  return (
    <ScatterChart
      width={628}
      height={500}
      margin={{ top: 35, right: 112, bottom: 19, left: 0 }}
      style={{ position: 'absolute', left: 640, top: 970 }}
    >
      <CartesianGrid fill="#f0f0f0" stroke="#fff" strokeWidth={0.8} />
      <XAxis
        type="number"
        dataKey="count"
        domain={[3.2, 34.5]}
        ticks={countTicks}
        interval={0}
        height={22}
        axisLine={false}
        tickLine={{ stroke: '#444' }}
        tickSize={3}
        tick={{ fontSize: 10.8, fill: '#222' }}
      />
      <YAxis
        type="category"
        dataKey="name"
        reversed
        width={283}
        axisLine={false}
        interval={0}
        tickLine={{ stroke: '#444' }}
        tickSize={4}
        tick={<KeggTick />}
      />
      <Scatter
        data={keggRows}
        isAnimationActive={false}
        shape={(p: any) => (
          <circle cx={p.cx} cy={p.cy} r={countRadius(p.payload.count)} fill={ramp(viridisRamp, p.payload.q)} />
        )}
      />
    </ScatterChart>
  );
}

const PANEL_LETTERS: [string, number, number][] = [['A', 47, 53], ['B', 47, 420], ['C', 648, 420], ['D', 47, 942], ['E', 653, 942]];
const CLUSTER_TITLES: [string, number, number][] = [['Cluster1: score-37.163', 408, 414], ['Cluster2: score-13.333', 510, 653], ['Cluster3: score-4.000', 186, 735]];
const CRITERIA = ['Degree>45.82', 'Closeness>0.0098', 'Betweenness>548.27'];

function Annotations() {
  return (
    <svg width={1268} height={1470} style={{ position: 'absolute', left: 0, top: 0 }}>
      <defs>
        <linearGradient id="arrowFill" x1="0" x2="1" y1="0" y2="0">
          <stop offset="0" stopColor="#fbdccf" />
          <stop offset="1" stopColor="#ee7050" />
        </linearGradient>
        <linearGradient id="qBar" x1="0" x2="0" y1="1" y2="0">
          {VIRIDIS.map((c, i) => <stop key={c} offset={i / 4} stopColor={c} />)}
        </linearGradient>
      </defs>

      {PANEL_LETTERS.map(([t, x, y]) => (
        <text key={t} x={x} y={y} textAnchor="middle" fontSize={42} fontWeight={700} fill="#000">{t}</text>
      ))}
      {CLUSTER_TITLES.map(([t, x, y]) => (
        <text key={t} x={x} y={y} textAnchor="middle" fontSize={19.6} fontWeight={700} fill="#111">{t}</text>
      ))}

      {CRITERIA.map((t, i) => (
        <text key={t} x={368} y={151 + i * 19.4} fontSize={15.8} fill="#111">{t}</text>
      ))}
      <path d="M369 201 H483 V197 L500 204.5 L483 212 V208 H369 Z" fill="url(#arrowFill)" />

      <rect x={604} y={111} width={151} height={141} fill="none" stroke="#ef8468" strokeWidth={2} />
      <line x1={755} y1={110} x2={968} y2={28} stroke="#f0795d" strokeWidth={1.4} strokeDasharray="8 5" />
      <line x1={755} y1={252} x2={988} y2={345} stroke="#f0795d" strokeWidth={1.4} strokeDasharray="8 5" />

      <polyline points="116,1217 52,1441 211,1441 275,1217" fill="none" stroke="#8fcfb8" />
      <polyline points="294,1217 230,1441 388,1441 453,1217" fill="none" stroke="#f0a585" />
      <polyline points="472,1217 408,1441 567,1441 631,1217" fill="none" stroke="#a6a8d8" />
      <text x={129} y={1458} textAnchor="middle" fontSize={13.6} fill={BP}>Biological process</text>
      <text x={307} y={1458} textAnchor="middle" fontSize={13.6} fill={CC}>Cellular component</text>
      <text x={487} y={1458} textAnchor="middle" fontSize={13.6} fill={MF}>Molecular function</text>

      <text x={1038} y={991} textAnchor="middle" fontSize={17.5} fontWeight={700} fill="#111">Top 20 of KEGG Enrichment</text>
      <text x={1202} y={1062} textAnchor="middle" fontSize={10.4} fontWeight={700} fill="#222">-Log10_Qvalue</text>
      <rect x={1202} y={1069} width={15} height={152} fill="url(#qBar)" />
      {qLegend.map((q) => (
        <g key={q}>
          <line x1={1217} x2={1220} y1={1220 - q * 7.1} y2={1220 - q * 7.1} stroke="#444" />
          <text x={1221} y={1224 - q * 7.1} fontSize={11} fill="#222">{q}</text>
        </g>
      ))}
      <text x={1205} y={1271} textAnchor="middle" fontSize={11} fontWeight={700} fill="#222">Count</text>
      <rect x={1192} y={1286} width={27} height={105} rx={4} fill="#ebebeb" />
      {countLegend.map((c, i) => {
        const y = [1293, 1310, 1329, 1352, 1377][i];
        return (
          <g key={c}>
            <circle cx={1205} cy={y} r={countRadius(c)} fill="#666" />
            <text x={1223} y={y + 4} fontSize={11} fill="#222">{c}</text>
          </g>
        );
      })}
    </svg>
  );
}

export default function App() {
  return (
    <div style={{ position: 'absolute', left: 0, top: 0, width: 1268, height: 1470, fontFamily: FONT, background: '#fff', overflow: 'hidden' }}>
      <Networks />
      <GoBars />
      <KeggDots />
      <Annotations />
    </div>
  );
}
